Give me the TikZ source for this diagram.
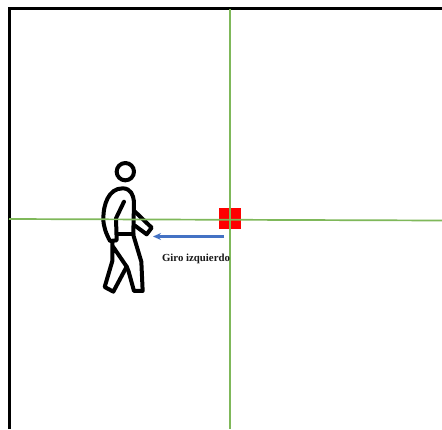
\documentclass[tikz,border=0pt]{standalone}
\usepackage{fontspec}
\setmainfont{Liberation Serif}
\usetikzlibrary{arrows.meta}
\definecolor{gridgreen}{HTML}{7FB85A}
\definecolor{arrowblue}{HTML}{4472C4}
\tikzset{
  frameline/.style={line width=3pt,black},
  gridline/.style={line width=1.7pt,gridgreen},
  figure/.style={line width=4pt,black,line join=round,line cap=round},
  move/.style={line width=2.4pt,arrowblue,-{Stealth[length=8pt,width=7pt]}},
  lab/.style={font=\bfseries\fontsize{10.8}{12}\selectfont,inner sep=0pt,text=black!90}
}
\begin{document}
\begin{tikzpicture}[x=1pt,y=-1pt]
\useasboundingbox (0,0) rectangle (442,429);
\fill[white] (0,0) rectangle (442,429);
% frame
\coordinate (fa) at (9.3,429);
\coordinate (fb) at (9.3,8.5);
\coordinate (fc) at (442,8.5);
\draw[frameline] (fa) -- (fb) -- (fc);
% figure
\begin{scope}[shift={(90,155)},x=0.3333pt,y=-0.3333pt]
\draw[figure] (106,50) circle[radius=26];
\draw[figure] (130,237) -- (85,237);
\draw[figure] (102,140) -- (78,190) -- (80,256) -- (60,258) .. controls (48,235) and (40,215) .. (40,190)
  .. controls (40,150) and (55,100) .. (98,100) .. controls (122,100) and (130,120) .. (132,140) -- (130,237);
\draw[figure] (135,170) -- (185,218) -- (170,238) -- (135,212);
\draw[figure] (67,262) -- (67,318) -- (44,396) -- (70,410) -- (110,335) -- (67,272);
\draw[figure] (130,240) -- (154,320) -- (158,408) -- (132,408) -- (116,350) -- (110,335);
\end{scope}
% grid
\coordinate (ga) at (9,219);
\coordinate (gb) at (442,220.5);
\coordinate (gc) at (230,9);
\coordinate (gd) at (230,429);
\node[fill=red,minimum width=22pt,minimum height=21.5pt,inner sep=0pt] (marker) at (230,218.5) {};
\draw[gridline] (ga) -- (gb);
\draw[gridline] (gc) -- (gd);
% arrow
\coordinate (as) at (224,236.5);
\coordinate (ae) at (153,236.5);
\draw[move] (as) -- (ae);
\node[lab] (giro) at (196,258.5) {Giro izquierdo};
\end{tikzpicture}
\end{document}
